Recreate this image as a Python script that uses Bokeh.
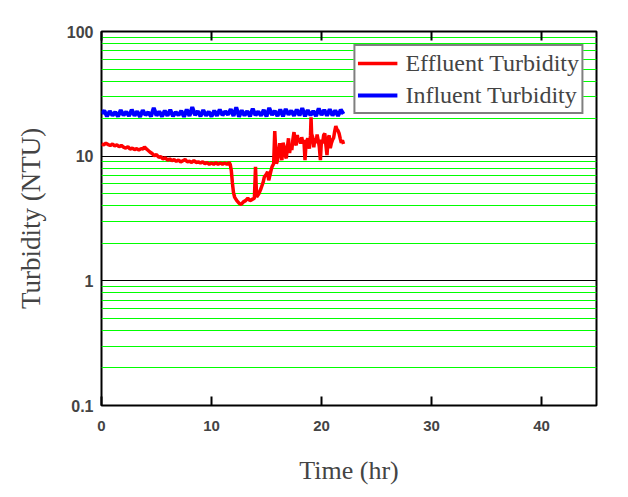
from bokeh.plotting import figure
from bokeh.models import Range1d, FixedTicker, LinearAxis, CustomJSTickFormatter, Legend, LegendItem
from bokeh.embed import file_html
from bokeh.resources import INLINE

# ---- data ----
INF_T = [0.0, 0.25, 0.5, 0.75, 1.0, 1.25, 1.5, 1.75,
         2.0, 2.25, 2.5, 2.75, 3.0, 3.25, 3.5, 3.75,
         4.0, 4.25, 4.5, 4.75, 5.0, 5.25, 5.5, 5.75,
         6.0, 6.25, 6.5, 6.75, 7.0, 7.25, 7.5, 7.75,
         8.0, 8.25, 8.5, 8.75, 9.0, 9.25, 9.5, 9.75,
         10.0, 10.25, 10.5, 10.75, 11.0, 11.25, 11.5, 11.75,
         12.0, 12.25, 12.5, 12.75, 13.0, 13.25, 13.5, 13.75,
         14.0, 14.25, 14.5, 14.75, 15.0, 15.25, 15.5, 15.75,
         16.0, 16.25, 16.5, 16.75, 17.0, 17.25, 17.5, 17.75,
         18.0, 18.25, 18.5, 18.75, 19.0, 19.25, 19.5, 19.75,
         20.0, 20.25, 20.5, 20.75, 21.0, 21.25, 21.5, 21.75,
         22.0]
INF_V = [21.9, 23.2, 20.9, 23.0, 21.2, 22.6, 20.8, 23.4, 21.3, 22.7,
         21.0, 23.6, 21.1, 22.9, 20.7, 23.3, 21.4, 22.5, 20.9, 24.4,
         21.2, 22.8, 20.8, 23.2, 21.1, 23.5, 20.9, 22.6, 21.3, 23.1,
         20.7, 23.7, 21.0, 24.7, 21.4, 23.0, 20.9, 23.4, 21.2, 22.7,
         20.8, 23.2, 21.1, 23.6, 21.3, 22.9, 21.5, 23.8, 21.0, 24.6,
         20.7, 23.3, 21.2, 23.0, 20.9, 24.0, 21.3, 22.8, 21.1, 23.5,
         20.8, 24.4, 21.4, 23.1, 21.0, 23.7, 20.9, 23.9, 21.5, 23.2,
         21.1, 23.6, 21.2, 24.3, 20.9, 23.4, 21.3, 23.0, 21.0, 24.1,
         21.4, 23.5, 21.1, 23.8, 21.2, 23.3, 21.0, 23.6, 21.8]

EFF_T = [0.0, 0.2, 0.4, 0.6, 0.8, 1.0, 1.2, 1.4, 1.6, 1.8,
         2.0, 2.2, 2.4, 2.6, 2.8, 3.0, 3.2, 3.4, 3.6, 3.8,
         3.9, 4.0, 4.2, 4.4, 4.6, 4.8, 5.0, 5.2, 5.4, 5.6,
         5.8, 6.0, 6.2, 6.4, 6.6, 6.8, 7.0, 7.2, 7.4, 7.6,
         7.8, 8.0, 8.2, 8.4, 8.6, 8.8, 9.0, 9.2, 9.4, 9.6,
         9.8, 10.0, 10.2, 10.4, 10.6, 10.8, 11.0, 11.2, 11.4, 11.6,
         11.7, 11.8, 11.9, 12.0, 12.1, 12.3, 12.5, 12.7, 12.9, 13.1,
         13.3, 13.5, 13.7, 13.9, 14.0, 14.1, 14.3, 14.5, 14.7, 14.8,
         15.0, 15.1, 15.2, 15.4, 15.5, 15.65, 15.75, 15.9, 16.0, 16.1,
         16.2, 16.3, 16.4, 16.5, 16.6, 16.7, 16.8, 16.9, 17.0, 17.1,
         17.2, 17.3, 17.4, 17.5, 17.6, 17.7, 17.8, 17.9, 18.0, 18.1,
         18.2, 18.3, 18.4, 18.5, 18.6, 18.75, 18.9, 19.0, 19.05, 19.1,
         19.2, 19.3, 19.4, 19.5, 19.6, 19.7, 19.8, 19.9, 20.0, 20.1,
         20.2, 20.3, 20.4, 20.5, 20.6, 20.7, 20.8, 20.9, 21.0, 21.1,
         21.2, 21.3, 21.4, 21.5, 21.6, 21.7, 21.8, 21.9, 22.0]
EFF_V = [12.6, 12.3, 12.7, 12.4, 12.2, 12.5, 12.1, 12.3, 11.9, 12.2,
         11.8, 11.6, 11.9, 11.4, 11.6, 11.3, 11.5, 11.2, 11.5, 11.4,
         11.9, 11.6, 11.2, 10.8, 10.5, 10.1, 10.3, 9.8, 9.9, 9.5,
         9.7, 9.3, 9.5, 9.2, 9.4, 9.1, 9.3, 9.0, 9.2, 9.4,
         9.0, 9.1, 8.9, 9.2, 8.9, 9.0, 8.8, 9.0, 8.7, 8.9,
         8.6, 8.8, 8.6, 8.9, 8.6, 8.8, 8.6, 8.8, 8.6, 8.9,
         8.6, 7.7, 6.1, 5.1, 4.7, 4.4, 4.2, 4.1, 4.3, 4.4,
         4.6, 4.4, 4.5, 4.6, 8.2, 4.7, 5.0, 5.5, 6.2, 6.8,
         7.2, 7.5, 6.4, 7.6, 8.2, 8.7, 15.9, 8.7, 9.2, 11.0,
         12.7, 10.4, 9.3, 12.8, 11.9, 10.1, 9.6, 11.8, 13.9, 10.6,
         12.4, 11.2, 13.6, 15.6, 13.1, 12.2, 14.8, 13.0, 13.9, 12.6,
         14.2, 12.9, 13.5, 9.3, 12.8, 13.9, 11.5, 14.6, 20.5, 15.1,
         14.2, 11.8, 13.9, 12.7, 14.9, 13.4, 11.9, 9.3, 13.6, 12.7,
         14.8, 15.2, 12.3, 10.2, 13.8, 14.7, 11.6, 12.7, 13.5, 14.0,
         15.8, 17.4, 16.4, 16.0, 15.2, 13.9, 12.8, 13.4, 12.5]

X_TICKS = [0, 10, 20, 30, 40]
Y_TICKS = [0.1, 1, 10, 100]
Y_MINOR = [0.2, 0.3, 0.4, 0.5, 0.6, 0.7, 0.8, 0.9,
           2, 3, 4, 5, 6, 7, 8, 9,
           20, 30, 40, 50, 60, 70, 80, 90]
LABELS = ["Effluent Turbidity", "Influent Turbidity"]

SERIF = "Liberation Serif"
SANS = "Liberation Sans"

p = figure(width=612, height=490, x_range=Range1d(0, 45), y_range=Range1d(0.1, 100),
           y_axis_type="log", output_backend="svg", toolbar_location=None,
           min_border_left=101, min_border_right=16, min_border_top=31, min_border_bottom=85)

p.outline_line_color = "black"
p.outline_line_width = 2
p.background_fill_color = "white"
p.border_fill_color = "white"

# grids
p.xgrid.grid_line_color = None
p.ygrid.ticker = FixedTicker(ticks=Y_TICKS, minor_ticks=Y_MINOR)
p.ygrid.grid_line_color = "black"
p.ygrid.grid_line_width = 1
p.ygrid.minor_grid_line_color = "#00ff00"
p.ygrid.minor_grid_line_width = 1

# x axis (bottom)
xa = p.xaxis[0]
xa.ticker = FixedTicker(ticks=X_TICKS)
xa.axis_line_color = None
xa.major_tick_in = 9
xa.major_tick_out = 0
xa.major_tick_line_width = 2
xa.minor_tick_line_color = None
xa.major_label_standoff = 15
xa.major_label_text_font = SANS
xa.major_label_text_font_style = "bold"
xa.major_label_text_font_size = "15px"
xa.axis_label = "Time (hr)"
xa.axis_label_text_font = SERIF
xa.axis_label_text_font_style = "normal"
xa.axis_label_text_font_size = "26px"
xa.axis_label_standoff = 22

# top axis
ta = LinearAxis(ticker=FixedTicker(ticks=X_TICKS),
                formatter=CustomJSTickFormatter(code="return '';"))
ta.axis_line_color = None
ta.major_tick_in = 9
ta.major_tick_out = 0
ta.major_tick_line_width = 2
ta.minor_tick_line_color = None
ta.major_label_text_font_size = "1px"
p.add_layout(ta, "above")

# y axis
ya = p.yaxis[0]
ya.ticker = FixedTicker(ticks=Y_TICKS, minor_ticks=Y_MINOR)
ya.formatter = CustomJSTickFormatter(code="return tick >= 1 ? tick.toFixed(0) : tick.toFixed(1);")
ya.axis_line_color = None
ya.major_tick_line_color = None
ya.minor_tick_line_color = None
ya.major_tick_in = 0
ya.major_tick_out = 0
ya.major_label_standoff = 4
ya.major_label_text_font = SANS
ya.major_label_text_font_style = "bold"
ya.major_label_text_font_size = "16px"
ya.axis_label = "Turbidity (NTU)"
ya.axis_label_text_font = SERIF
ya.axis_label_text_font_style = "normal"
ya.axis_label_text_font_size = "27px"
ya.axis_label_standoff = 18

r_eff = p.line(EFF_T, EFF_V, line_color="#ff0000", line_width=3.5)
r_inf = p.line(INF_T, INF_V, line_color="#0000ff", line_width=4)

legend = Legend(items=[LegendItem(label=LABELS[0], renderers=[r_eff]),
                       LegendItem(label=LABELS[1], renderers=[r_inf])],
                location="top_right")
legend.border_line_color = "black"
legend.border_line_width = 2
legend.background_fill_color = "white"
legend.background_fill_alpha = 1
legend.label_text_font = SERIF
legend.label_text_font_size = "24px"
legend.glyph_width = 40
legend.glyph_height = 30
legend.label_height = 30
legend.label_standoff = 8
legend.padding = 2
legend.spacing = 2
legend.margin = 13
p.add_layout(legend, "center")

open("out.html", "w").write(file_html(p, INLINE))
